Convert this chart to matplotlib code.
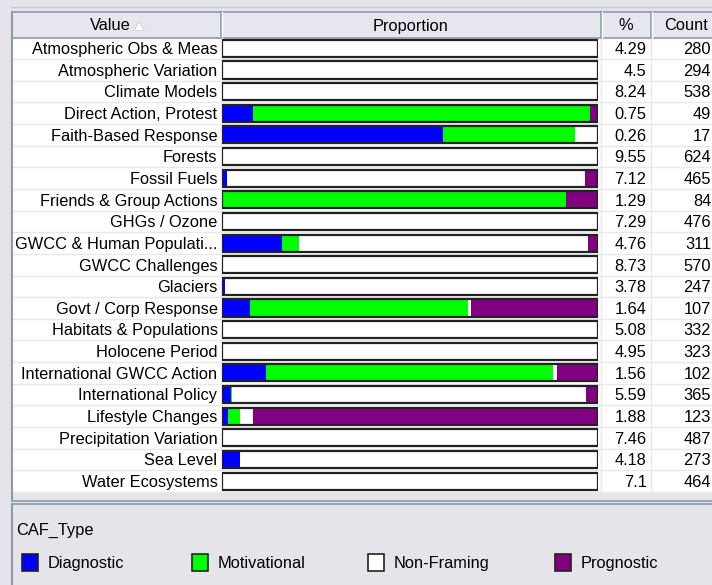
import matplotlib
matplotlib.use("Agg")
import matplotlib.pyplot as plt
from matplotlib.patches import Rectangle, Polygon
import numpy as np

plt.rcParams['font.family'] = ['Liberation Sans', 'DejaVu Sans']

# ---- data ----
values = [
    "Atmospheric Obs & Meas", "Atmospheric Variation", "Climate Models",
    "Direct Action, Protest", "Faith-Based Response", "Forests", "Fossil Fuels",
    "Friends & Group Actions", "GHGs / Ozone", "GWCC & Human Populati...",
    "GWCC Challenges", "Glaciers", "Govt / Corp Response",
    "Habitats & Populations", "Holocene Period", "International GWCC Action",
    "International Policy", "Lifestyle Changes", "Precipitation Variation",
    "Sea Level", "Water Ecosystems",
]
pct = ["4.29", "4.5", "8.24", "0.75", "0.26", "9.55", "7.12", "1.29", "7.29",
       "4.76", "8.73", "3.78", "1.64", "5.08", "4.95", "1.56", "5.59", "1.88",
       "7.46", "4.18", "7.1"]
counts = [280, 294, 538, 49, 17, 624, 465, 84, 476, 311, 570, 247, 107, 332,
          323, 102, 365, 123, 487, 273, 464]

caf_types = ["Diagnostic", "Motivational", "Non-Framing", "Prognostic"]
caf_colors = ["#0000ff", "#00ff00", "#ffffff", "#800080"]
diagnostic   = [0, 0, 0, 4, 10, 0, 6, 0, 0, 50, 2, 2, 8, 0, 0, 12, 9, 2, 1, 13, 1]
motivational = [0, 0, 0, 44, 6, 0, 0, 77, 0, 14, 0, 0, 62, 0, 0, 78, 1, 4, 0, 0, 0]
nonframing   = [280, 294, 538, 0, 1, 624, 444, 0, 476, 239, 568, 245, 1, 332,
                323, 1, 344, 4, 486, 260, 463]
prognostic   = [0, 0, 0, 1, 0, 0, 15, 7, 0, 8, 0, 0, 36, 0, 0, 11, 11, 113, 0, 0, 0]

W, H = 712, 585
fig = plt.figure(figsize=(W / 100, H / 100), dpi=100)

# background axes in pixel units
ax = fig.add_axes([0, 0, 1, 1])
ax.set_xlim(0, W)
ax.set_ylim(H, 0)
ax.axis("off")

panel_bg = "#e4e4ea"
border = "#8c9aab"
grid = "#e8e8ec"
ax.add_patch(Rectangle((0, 0), W, H, facecolor=panel_bg, edgecolor="none"))
ax.plot([10, W], [7, 7], color="#c8ccd4", lw=1)

# table geometry
left, c1, c2, c3 = 12, 220.5, 600.5, 650.5
head_top, head_bot = 12, 37.5
row_h = 21.64
n = len(values)
body_bot = head_bot + n * row_h

# body
ax.add_patch(Rectangle((left, head_bot), W - left, n * row_h,
                       facecolor="white", edgecolor="none"))
for i in range(1, n + 1):
    y = head_bot + i * row_h
    ax.plot([left, W], [y, y], color=grid, lw=1)
for x in (c1, c2, c3):
    ax.plot([x, x], [head_bot, body_bot], color=grid, lw=1)

# header
ax.add_patch(Rectangle((left, head_top), W - left, head_bot - head_top,
                       facecolor="#e6e6ee", edgecolor="none"))
ax.plot([left, W], [head_top, head_top], color=border, lw=1.2)
ax.plot([left, W], [head_bot, head_bot], color=border, lw=1.2)
for x in (c1, c2, c3):
    ax.plot([x, x], [head_top, head_bot], color=border, lw=1.2)
    ax.plot([x + 1.5, x + 1.5], [head_top, head_bot], color="white", lw=1)
ax.plot([left, left], [head_top, body_bot + 8], color=border, lw=1.5)

hb = 30.5  # header text baseline
fs = 11.8
ax.text((left + c1) / 2 + 14, hb, "Value", ha="right", va="baseline", fontsize=fs)
tx = (left + c1) / 2 + 18
ax.add_patch(Polygon([[tx, hb], [tx + 10, hb], [tx + 5, hb - 9]],
                     closed=True, facecolor="white", edgecolor="#d0d0d8", lw=0.6))
ax.text((c1 + c2) / 2, hb, "Proportion", ha="center", va="baseline", fontsize=fs)
ax.text((c2 + c3) / 2, hb, "%", ha="center", va="baseline", fontsize=fs)
ax.text(686, hb, "Count", ha="center", va="baseline", fontsize=fs)

# row texts
for i, (lab, p, c) in enumerate(zip(values, pct, counts)):
    y = head_bot + (i + 0.5) * row_h + 5.8
    ax.text(c1 - 3, y, lab, ha="right", va="baseline", fontsize=fs)
    ax.text(c3 - 4, y, p, ha="right", va="baseline", fontsize=fs)
    ax.text(711, y, str(c), ha="right", va="baseline", fontsize=fs)

# lower part of panel and legend area
ax.plot([left, W], [body_bot + 9, body_bot + 9], color=border, lw=1.2)
ax.plot([left, W], [body_bot + 12, body_bot + 12], color=border, lw=1.2)
ax.plot([left, left], [body_bot + 12, H], color=border, lw=1.5)

ax.text(16, 535, "CAF_Type", ha="left", va="baseline", fontsize=fs)
leg_x = [22, 192, 368, 555]
for x, name, col in zip(leg_x, caf_types, caf_colors):
    ax.add_patch(Rectangle((x, 554), 16, 17, facecolor=col,
                           edgecolor="#222222", lw=1.2))
    ax.text(x + 26, 568, name, ha="left", va="baseline", fontsize=fs)

# proportion bars in their own axes (fractions of each row's count)
bx0, bx1 = 222, 597.5
bx = fig.add_axes([bx0 / W, 1 - body_bot / H, (bx1 - bx0) / W, n * row_h / H])
bx.set_xlim(0, 1)
bx.set_ylim(n - 0.5, -0.5)
bx.axis("off")
bx.patch.set_alpha(0)

series = np.array([diagnostic, motivational, nonframing, prognostic], dtype=float)
totals = np.array(counts, dtype=float)
fracs = series / totals
ypos = np.arange(n)
bh = 0.79
cum = np.zeros(n)
for frac, col in zip(fracs, caf_colors):
    bx.barh(ypos, frac, left=cum, height=bh, color=col, edgecolor="none")
    cum += frac
bx.barh(ypos, np.ones(n), height=bh, facecolor="none",
        edgecolor="#222222", lw=1.6)

fig.savefig("out.png", dpi=100)
